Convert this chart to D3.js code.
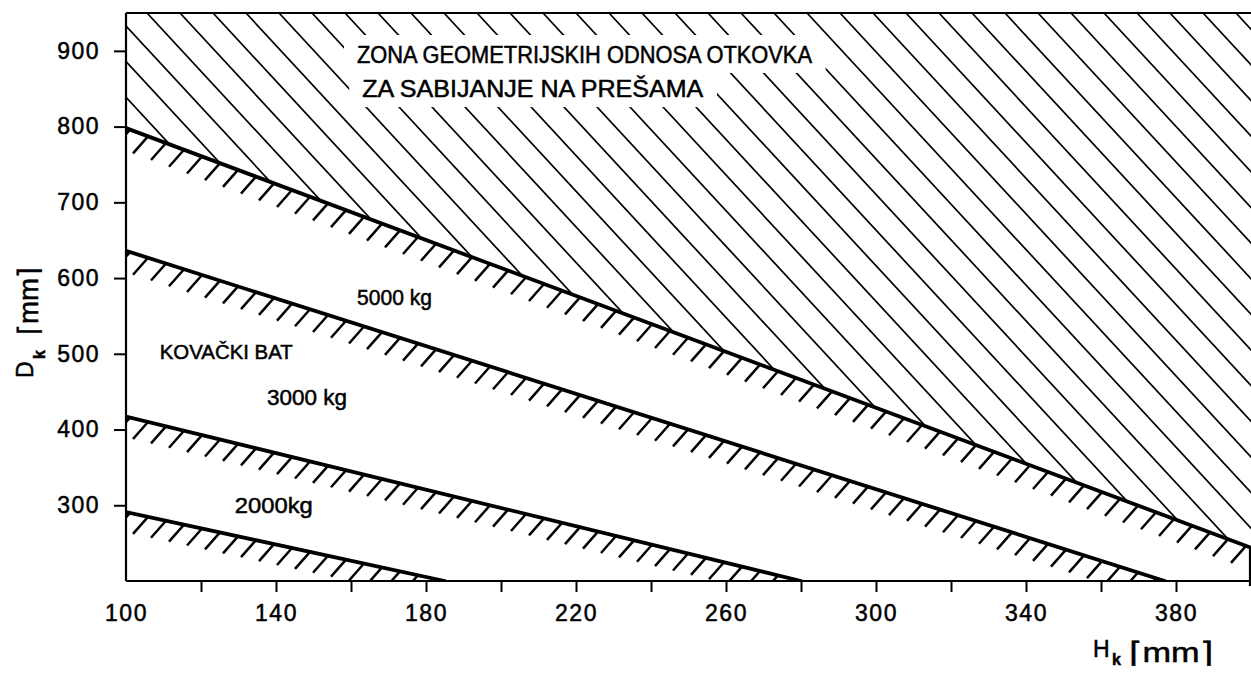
<!DOCTYPE html>
<html>
<head>
<meta charset="utf-8">
<script src="https://cdn.jsdelivr.net/npm/d3@7"></script>
<style>
  body { margin: 0; background: #fff; }
  svg { display: block; font-family: "Liberation Sans", Arial, sans-serif; }
  svg text { fill: #000; stroke: #000; stroke-width: 0.5px; }
</style>
</head>
<body>
<svg id="chart" width="1251" height="675"></svg>
<script>
// limit lines for the hammer sizes: [Hk, Dk] at start and end
var lineStart = [[100, 798], [100, 636], [100, 417], [100, 291]];
var lineEnd   = [[400, 244], [377, 200], [280, 200], [185, 200]];

// zone labels and where they sit, in chart units [Hk, Dk]
var zoneLabels  = ['5000 kg', 'KOVAČKI BAT', '3000 kg', '2000kg'];
var zoneLabelAt = [[161.6, 564], [109, 493], [137.6, 432], [129, 290]];
var titleLines  = ['ZONA GEOMETRIJSKIH ODNOSA OTKOVKA', 'ZA SABIJANJE NA PREŠAMA'];
var titleAt     = [[161.6, 884], [163, 839]];

var xTicks  = [120, 140, 160, 180, 200, 220, 240, 260, 280, 300, 320, 340, 360, 380];
var xLabels = [100, 140, 180, 220, 260, 300, 340, 380];
var yTicks  = [300, 400, 500, 600, 700, 800, 900];

var svg = d3.select('#chart');

var x = d3.scaleLinear().domain([100, 400]).range([126, 1251]);
var y = d3.scaleLinear().domain([200, 950]).range([581, 13]);

var pLeft = x(100), pRight = x(400), pTop = y(950), pBottom = y(200);

var defs = svg.append('defs');
defs.append('clipPath').attr('id', 'plotClip')
    .append('rect')
    .attr('x', pLeft).attr('y', pTop)
    .attr('width', pRight - pLeft).attr('height', pBottom - pTop);

// zone above the 5000 kg line
defs.append('clipPath').attr('id', 'zoneClip')
    .append('polygon')
    .attr('points', [
        [pLeft, pTop], [pRight, pTop],
        [x(lineEnd[0][0]), y(lineEnd[0][1])],
        [x(lineStart[0][0]), y(lineStart[0][1])]
    ].map(function(p) { return p.join(','); }).join(' '));

// wide hatching of the press zone
var slope = 1.08, gap = 33;
var zone = svg.append('g').attr('clip-path', 'url(#zoneClip)');
zone.selectAll('.zhatch').data(d3.range(-25, 40))
    .enter().append('line')
    .attr('class', 'zhatch')
    .attr('x1', function(k) { return 147 + gap * k; })
    .attr('y1', pTop)
    .attr('x2', function(k) { return 147 + gap * k + 800; })
    .attr('y2', pTop + 800 * slope)
    .style('stroke', '#000').style('stroke-width', 1.7);

// title of the zone, hatching cleared behind it
var titles = svg.append('g');
titleLines.forEach(function(t, i) {
    titles.append('text')
        .attr('class', 'ztitle')
        .attr('x', x(titleAt[i][0])).attr('y', y(titleAt[i][1]))
        .attr('textLength', i == 0 ? 455 : 341)
        .attr('lengthAdjust', 'spacingAndGlyphs')
        .style('font-size', '23px')
        .text(t);
});
titles.selectAll('.ztitle').each(function() {
    var b = this.getBBox();
    titles.insert('rect', ':first-child')
        .attr('x', b.x - 13).attr('y', b.y - 7)
        .attr('width', b.width + 26).attr('height', b.height + 12)
        .style('fill', '#fff');
});

// limit lines with short hatch strokes below them
var plot = svg.append('g').attr('clip-path', 'url(#plotClip)');
lineStart.forEach(function(s, i) {
    var e = lineEnd[i];
    var x0 = x(s[0]), y0 = y(s[1]), x1 = x(e[0]), y1 = y(e[1]);
    var m = (y1 - y0) / (x1 - x0);
    var steps = d3.range(x0 + 4, x1 - 2, 18);
    plot.selectAll('.hs' + i).data(steps)
        .enter().append('line')
        .attr('class', 'hs' + i)
        .attr('x1', function(px) { return px; })
        .attr('y1', function(px) { return y0 + m * (px - x0); })
        .attr('x2', function(px) { return px - 15; })
        .attr('y2', function(px) { return y0 + m * (px - x0) + 17; })
        .style('stroke', '#000').style('stroke-width', 2.5);
    plot.append('line')
        .attr('x1', x0).attr('y1', y0).attr('x2', x1).attr('y2', y1)
        .style('stroke', '#000').style('stroke-width', 3.8)
        .style('stroke-linecap', 'round');
});

// zone labels
zoneLabels.forEach(function(t, i) {
    var widths = [75, 133, 80, 78];
    svg.append('text')
        .attr('x', x(zoneLabelAt[i][0])).attr('y', y(zoneLabelAt[i][1]))
        .attr('textLength', widths[i])
        .attr('lengthAdjust', 'spacingAndGlyphs')
        .style('font-size', i == 1 ? '20px' : '22px')
        .text(t);
});

// axes
var xAxis = d3.axisBottom(x)
    .tickValues([100].concat(xTicks))
    .tickSizeInner(11).tickSizeOuter(0).tickPadding(13)
    .tickFormat(function(d) { return xLabels.indexOf(d) >= 0 ? d : ''; });
var gx = svg.append('g')
    .attr('class', 'x axis')
    .attr('transform', 'translate(0,' + pBottom + ')')
    .call(xAxis);
gx.selectAll('.tick').filter(function(d) { return d == 100; }).select('line').remove();

var yAxis = d3.axisLeft(y)
    .tickValues(yTicks)
    .tickSizeInner(12).tickSizeOuter(0).tickPadding(14);
var gy = svg.append('g')
    .attr('class', 'y axis')
    .attr('transform', 'translate(' + pLeft + ',0)')
    .call(yAxis);

svg.selectAll('.axis path').remove();
svg.selectAll('.axis line').style('stroke', '#000').style('stroke-width', 2);
svg.selectAll('.axis text')
    .style('font-family', '"Liberation Sans", Arial, sans-serif')
    .style('font-size', '23px').style('letter-spacing', '1.5px');

// frame
var frame = svg.append('g').style('stroke', '#000').style('stroke-width', 2.2);
frame.append('line').attr('x1', pLeft).attr('y1', pTop).attr('x2', pRight).attr('y2', pTop);
frame.append('line').attr('x1', pLeft).attr('y1', pTop).attr('x2', pLeft).attr('y2', pBottom);
frame.append('line').attr('x1', pLeft).attr('y1', pBottom).attr('x2', pRight).attr('y2', pBottom);
frame.append('line').attr('x1', pRight - 1).attr('y1', y(lineEnd[0][1])).attr('x2', pRight - 1).attr('y2', pBottom + 5);

// axis titles
var yt = svg.append('g').attr('transform', 'rotate(-90)');
yt.append('text').attr('x', -378).attr('y', 33).style('font-size', '23px').text('D');
yt.append('text').attr('x', -359).attr('y', 45).style('font-size', '16px').style('font-weight', 'bold').text('k');
yt.append('text').attr('x', -335).attr('y', 38)
    .attr('textLength', 68).attr('lengthAdjust', 'spacingAndGlyphs')
    .style('font-size', '28px').text('⌈mm⌉');

svg.append('text').attr('x', 1093).attr('y', 657).style('font-size', '23px').text('H');
svg.append('text').attr('x', 1112).attr('y', 665).style('font-size', '16px').style('font-weight', 'bold').text('k');
svg.append('text').attr('x', 1129).attr('y', 662)
    .attr('textLength', 84).attr('lengthAdjust', 'spacingAndGlyphs')
    .style('font-size', '28px').text('⌈mm⌉');
</script>
</body>
</html>
